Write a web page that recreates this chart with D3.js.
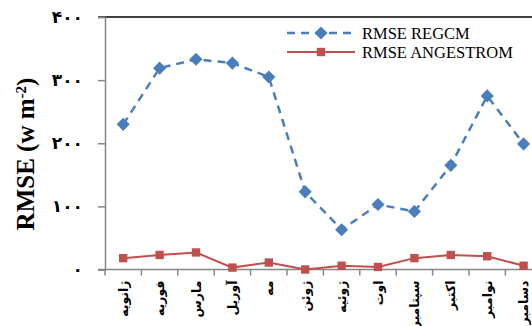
<!DOCTYPE html>
<html>
<head>
<meta charset="utf-8">
<script src="https://cdn.jsdelivr.net/npm/d3@7"></script>
<style>
  html, body { margin: 0; padding: 0; background: #fff; }
  svg { display: block; }
</style>
</head>
<body>
<svg id="chart" width="532" height="326"></svg>
<script>
// Monthly RMSE of surface radiation: RegCM vs. Angstrom model
const months = ["ژانویه", "فوریه", "مارس", "آوریل", "مه", "ژوئن", "ژوئیه", "اوت", "سپتامبر", "اکتبر", "نوامبر", "دسامبر"];
const rmseRegcm = [230, 319, 333, 327, 305, 123, 63, 103, 92, 165, 275, 199];
const rmseAngstrom = [18, 23, 27, 3, 11, 0, 6, 4, 18, 23, 21, 6];
const yTicks = [0, 100, 200, 300, 400];
const yTickLabels = ["۰", "۱۰۰", "۲۰۰", "۳۰۰", "۴۰۰"];
const seriesNames = ["RMSE REGCM", "RMSE ANGESTROM"];

const svg = d3.select("#chart");
const plotLeft = 105, plotTop = 17, plotBottom = 269.5, step = 36.4;

const x = d3.scaleBand().domain(months).range([plotLeft, plotLeft + step * months.length]).padding(0);
const y = d3.scaleLinear().domain([0, 400]).range([plotBottom, plotTop]);

const blue = "#4a7ebb", red = "#c0504d", axisGrey = "#868686";

// top frame line at the 400 level
svg.append("line")
  .attr("x1", plotLeft - 7).attr("x2", 532)
  .attr("y1", y(400)).attr("y2", y(400))
  .attr("stroke", "#000").attr("stroke-width", 1.5);

// y axis
const yAxis = d3.axisLeft(y).tickValues(yTicks).tickSize(7)
  .tickFormat((d, i) => yTickLabels[i]);
const gy = svg.append("g").attr("transform", `translate(${plotLeft},0)`).call(yAxis);
gy.select(".domain").attr("stroke", axisGrey).attr("stroke-width", 1.5);
gy.selectAll(".tick line").attr("stroke", axisGrey).attr("stroke-width", 1.5);
gy.selectAll(".tick text")
  .attr("x", -22)
  .attr("font-family", "DejaVu Sans, sans-serif")
  .attr("font-weight", "bold")
  .attr("font-size", 17)
  .attr("fill", "#000");

// x axis: ticks at category boundaries
const gx = svg.append("g").attr("transform", `translate(0,${plotBottom})`);
gx.append("line")
  .attr("x1", plotLeft - 7).attr("x2", 532)
  .attr("stroke", axisGrey).attr("stroke-width", 1.5);
gx.selectAll("line.tk")
  .data(months.concat([null]))
  .join("line")
  .attr("class", "tk")
  .attr("x1", (d, i) => x.range()[0] + i * x.step())
  .attr("x2", (d, i) => x.range()[0] + i * x.step())
  .attr("y1", 0).attr("y2", 6)
  .attr("stroke", axisGrey).attr("stroke-width", 1.5);

// rotated month labels
svg.append("g").selectAll("text")
  .data(months)
  .join("text")
  .attr("transform", d => `translate(${x(d) + x.bandwidth() / 2 + 4.5},${plotBottom + 11}) rotate(-90)`)
  .attr("text-anchor", "end")
  .attr("font-family", "DejaVu Sans, sans-serif")
  .attr("font-weight", "bold")
  .attr("font-size", 12.5)
  .attr("fill", "#000")
  .text(d => d);

// y axis title
const yt = svg.append("text")
  .attr("transform", `translate(34,154) rotate(-90)`)
  .attr("text-anchor", "middle")
  .attr("font-family", "Liberation Serif, Times New Roman, serif")
  .attr("font-weight", "bold")
  .attr("font-size", 25)
  .attr("fill", "#000");
yt.append("tspan").text("RMSE (w m");
yt.append("tspan").attr("baseline-shift", "super").attr("font-size", 15).text("-2");
yt.append("tspan").text(")");

const cx = d => x(d) + x.bandwidth() / 2;

// series lines
const line = d3.line().x(d => cx(d[0])).y(d => y(d[1]));
svg.append("path")
  .datum(months.map((m, i) => [m, rmseRegcm[i]]))
  .attr("d", line).attr("fill", "none")
  .attr("stroke", blue).attr("stroke-width", 2.5)
  .attr("stroke-dasharray", "8,6");
svg.append("path")
  .datum(months.map((m, i) => [m, rmseAngstrom[i]]))
  .attr("d", line).attr("fill", "none")
  .attr("stroke", red).attr("stroke-width", 2);

// markers
const diamond = d3.symbol().type(d3.symbolDiamond2).size(110);
const square = d3.symbol().type(d3.symbolSquare).size(70);
svg.append("g").selectAll("path")
  .data(months.map((m, i) => [m, rmseRegcm[i]]))
  .join("path")
  .attr("transform", d => `translate(${cx(d[0])},${y(d[1])})`)
  .attr("d", diamond).attr("fill", blue);
svg.append("g").selectAll("path")
  .data(months.map((m, i) => [m, rmseAngstrom[i]]))
  .join("path")
  .attr("transform", d => `translate(${cx(d[0])},${y(d[1])})`)
  .attr("d", square).attr("fill", red);

// legend
const lg = svg.append("g");
const legendRows = [
  { name: seriesNames[0], color: blue, dash: "8,6", width: 2.5, sym: diamond, yy: 33 },
  { name: seriesNames[1], color: red, dash: null, width: 2, sym: square, yy: 52 }
];
legendRows.forEach(r => {
  lg.append("line")
    .attr("x1", 287).attr("x2", 355).attr("y1", r.yy).attr("y2", r.yy)
    .attr("stroke", r.color).attr("stroke-width", r.width)
    .attr("stroke-dasharray", r.dash);
  lg.append("path").attr("transform", `translate(321,${r.yy})`).attr("d", r.sym).attr("fill", r.color);
  lg.append("text")
    .attr("x", 362).attr("y", r.yy + 5.5)
    .attr("font-family", "Liberation Serif, Times New Roman, serif")
    .attr("font-size", 16.5)
    .attr("fill", "#000")
    .text(r.name);
});
</script>
</body>
</html>
